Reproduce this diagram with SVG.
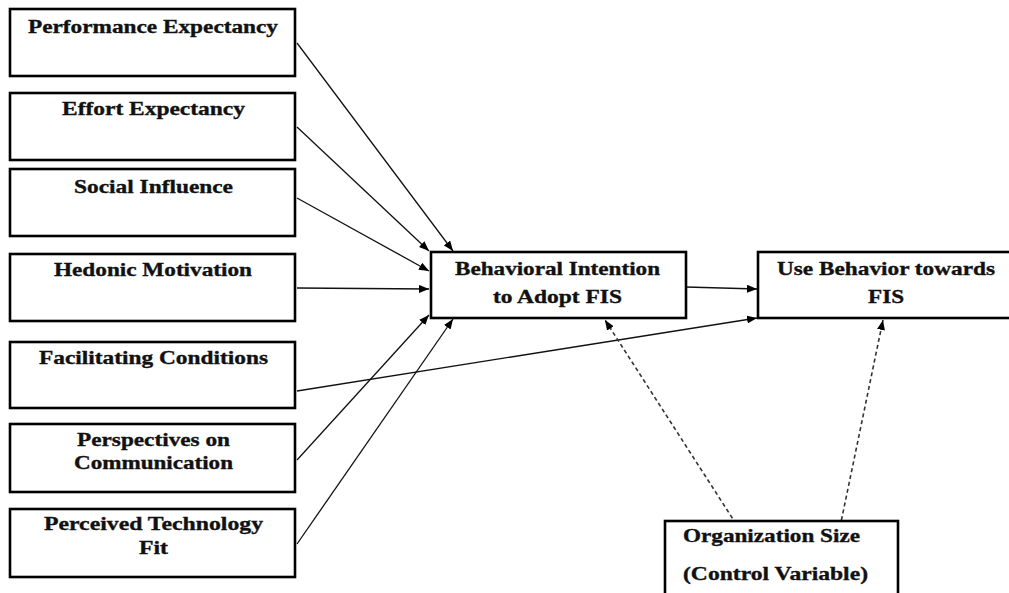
<svg xmlns="http://www.w3.org/2000/svg" width="1009" height="593" viewBox="0 0 1009 593">
<defs>
<style>
.box{fill:#fff;stroke:#000;stroke-width:2.6}
.t{font-family:"Liberation Serif","Times New Roman",serif;font-weight:bold;font-size:19px;fill:#111;stroke:#111;stroke-width:0.35}
.c{text-anchor:middle}
.ln{stroke:#111;stroke-width:1.3;fill:none}
.ds{stroke:#333;stroke-width:1.6;fill:none;stroke-dasharray:4 3}
</style>
<marker id="ah" viewBox="0 0 10 8" refX="10" refY="4" markerWidth="10" markerHeight="8" markerUnits="userSpaceOnUse" orient="auto">
<path d="M0,0 L10,4 L0,8 Z" fill="#000"/>
</marker>
</defs>
<rect width="1009" height="593" fill="#fff"/>
<g id="connectors">
<line class="ln" x1="297" y1="43" x2="453" y2="251" marker-end="url(#ah)"/>
<line class="ln" x1="297" y1="127" x2="429" y2="251" marker-end="url(#ah)"/>
<line class="ln" x1="297" y1="198" x2="429" y2="271" marker-end="url(#ah)"/>
<line class="ln" x1="297" y1="288" x2="429" y2="289" marker-end="url(#ah)"/>
<line class="ln" x1="297" y1="391" x2="757" y2="318" marker-end="url(#ah)"/>
<line class="ln" x1="297" y1="460" x2="429" y2="315" marker-end="url(#ah)"/>
<line class="ln" x1="297" y1="544" x2="453" y2="319" marker-end="url(#ah)"/>
<line class="ln" x1="686" y1="287" x2="757" y2="289" marker-end="url(#ah)"/>
<line class="ds" x1="740" y1="530" x2="605" y2="320" marker-end="url(#ah)"/>
<line class="ds" x1="840" y1="527" x2="883" y2="320" marker-end="url(#ah)"/>
</g>
<g id="pe"><rect class="box" x="10" y="9" width="285" height="67"/><text class="t c" x="153" y="33" textLength="250" lengthAdjust="spacingAndGlyphs">Performance Expectancy</text></g>
<g id="ee"><rect class="box" x="10" y="93" width="285" height="67"/><text class="t c" x="153.5" y="115" textLength="183" lengthAdjust="spacingAndGlyphs">Effort Expectancy</text></g>
<g id="si"><rect class="box" x="10" y="169" width="285" height="67"/><text class="t c" x="153.5" y="193" textLength="159" lengthAdjust="spacingAndGlyphs">Social Influence</text></g>
<g id="hm"><rect class="box" x="10" y="254" width="285" height="67"/><text class="t c" x="153" y="276" textLength="198" lengthAdjust="spacingAndGlyphs">Hedonic Motivation</text></g>
<g id="fc"><rect class="box" x="10" y="342" width="285" height="66"/><text class="t c" x="153.5" y="364" textLength="229" lengthAdjust="spacingAndGlyphs">Facilitating Conditions</text></g>
<g id="pc"><rect class="box" x="10" y="424" width="285" height="68"/><text class="t c" x="153.5" y="446" textLength="153" lengthAdjust="spacingAndGlyphs">Perspectives on</text><text class="t c" x="153.5" y="469" textLength="159" lengthAdjust="spacingAndGlyphs">Communication</text></g>
<g id="ptf"><rect class="box" x="10" y="509" width="285" height="68"/><text class="t c" x="153.5" y="530" textLength="219" lengthAdjust="spacingAndGlyphs">Perceived Technology</text><text class="t c" x="153.5" y="554" textLength="29" lengthAdjust="spacingAndGlyphs">Fit</text></g>
<g id="bi"><rect class="box" x="431" y="252" width="255" height="66"/><text class="t c" x="557.5" y="275" textLength="205" lengthAdjust="spacingAndGlyphs">Behavioral Intention</text><text class="t c" x="557.5" y="303" textLength="129" lengthAdjust="spacingAndGlyphs">to Adopt FIS</text></g>
<g id="ub"><rect class="box" x="758" y="252" width="270" height="66"/><text class="t c" x="886" y="275" textLength="218" lengthAdjust="spacingAndGlyphs">Use Behavior towards</text><text class="t c" x="886" y="303" textLength="36" lengthAdjust="spacingAndGlyphs">FIS</text></g>
<g id="os"><rect class="box" x="665" y="521" width="233" height="90"/><text class="t" x="683" y="542" textLength="177" lengthAdjust="spacingAndGlyphs">Organization Size</text><text class="t" x="683" y="580" textLength="185" lengthAdjust="spacingAndGlyphs">(Control Variable)</text></g>
</svg>
